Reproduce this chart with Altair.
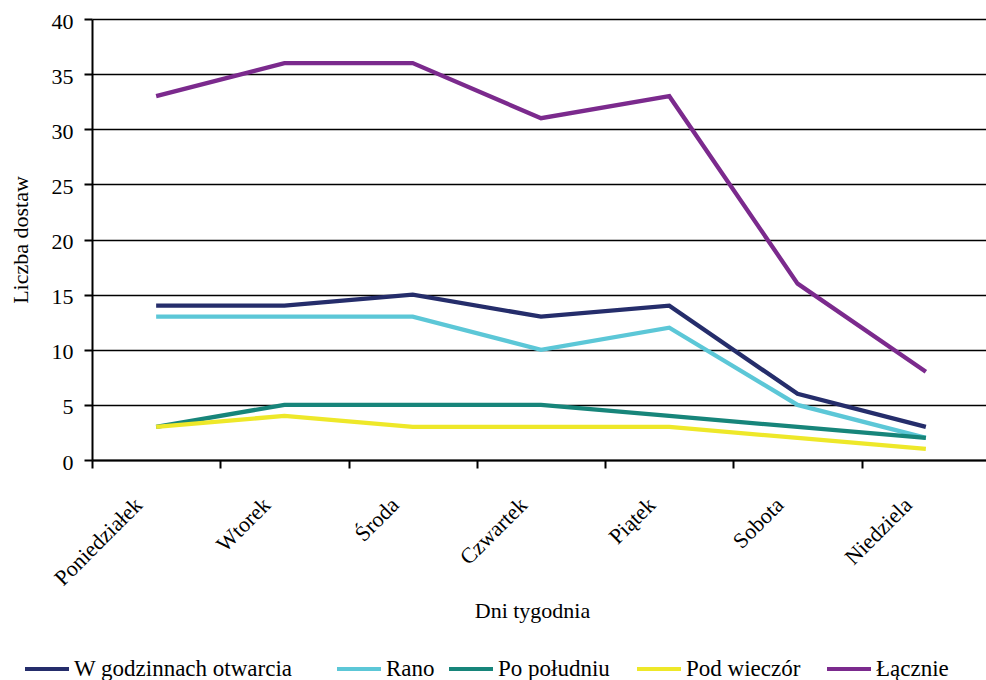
import altair as alt
import pandas as pd

days = ["Poniedziałek", "Wtorek", "Środa", "Czwartek", "Piątek", "Sobota", "Niedziela"]
series_names = ["W godzinnach otwarcia", "Rano", "Po południu", "Pod wieczór", "Łącznie"]
w_godzinach = [14, 14, 15, 13, 14, 6, 3]
rano = [13, 13, 13, 10, 12, 5, 2]
po_poludniu = [3, 5, 5, 5, 4, 3, 2]
pod_wieczor = [3, 4, 3, 3, 3, 2, 1]
lacznie = [33, 36, 36, 31, 33, 16, 8]
y_ticks = [0, 5, 10, 15, 20, 25, 30, 35, 40]

colors = ["#252D6B", "#5CC7D7", "#17857A", "#EEE829", "#7B2A8D"]
legend_x = [-69, 243, 355, 543, 733]

FONT = "Liberation Serif"

values = [w_godzinach, rano, po_poludniu, pod_wieczor, lacznie]
rows = []
for name, vals in zip(series_names, values):
    for d, v in zip(days, vals):
        rows.append({"day": d, "value": v, "series": name})
df = pd.DataFrame(rows)

x_enc = alt.X(
    "day:N",
    sort=days,
    bandPosition=0.5,
    scale=alt.Scale(type="band", domain=days, range=[0, 898], paddingInner=0, paddingOuter=0),
    axis=alt.Axis(
        title="Dni tygodnia",
        labelAngle=-45,
        labelAlign="right",
        labelBaseline="middle",
        tickBand="extent",
        tickSize=8,
        tickWidth=2,
        tickColor="black",
        domainColor="black",
        domainWidth=2,
        grid=False,
        labelFont=FONT,
        labelFontSize=22,
        labelColor="black",
        labelPadding=33,
        labelOffset=-18,
        labelOverlap=False,
        labelLimit=300,
        titleFont=FONT,
        titleFontSize=22,
        titleFontWeight="normal",
        titleColor="black",
        titleBaseline="alphabetic",
        titleX=440,
        titleY=157,
    ),
)

y_enc = alt.Y(
    "value:Q",
    scale=alt.Scale(domain=[0, 40], nice=False, zero=True),
    axis=alt.Axis(
        title="Liczba dostaw",
        values=y_ticks,
        grid=True,
        gridColor="black",
        gridWidth=1.6,
        domainColor="black",
        domainWidth=2,
        tickSize=8,
        tickWidth=2,
        tickColor="black",
        labelFont=FONT,
        labelFontSize=22,
        labelColor="black",
        labelPadding=11,
        labelOffset=2,
        titleFont=FONT,
        titleFontSize=22,
        titleFontWeight="normal",
        titleColor="black",
        titleBaseline="alphabetic",
        titleAlign="center",
        titleAngle=-90,
        titleX=-65,
        titleY=220.5,
    ),
)

layers = []
for i, name in enumerate(series_names):
    layer = (
        alt.Chart(df)
        .transform_filter(alt.datum.series == name)
        .mark_line(strokeWidth=4.3)
        .encode(
            x=x_enc,
            y=y_enc,
            color=alt.Color(
                "series:N",
                scale=alt.Scale(domain=[name], range=[colors[i]]),
                legend=alt.Legend(
                    orient="none",
                    legendX=legend_x[i],
                    legendY=626,
                    title=None,
                    symbolType="stroke",
                    symbolSize=1936,
                    symbolStrokeWidth=4,
                    labelFont=FONT,
                    labelFontSize=23,
                    labelColor="black",
                    labelOffset=3,
                    labelLimit=400,
                    padding=0,
                ),
            ),
        )
    )
    layers.append(layer)

chart = (
    alt.layer(*layers)
    .resolve_scale(color="independent")
    .resolve_legend(color="independent")
    .properties(
        width=894,
        height=441,
        autosize=alt.AutoSizeParams(type="none"),
        padding={"left": 92, "top": 19, "right": 0, "bottom": 220},
        background="white",
    )
    .configure_view(stroke=None)
)

chart.save("out.html", embed_options={"renderer": "svg", "actions": False})
